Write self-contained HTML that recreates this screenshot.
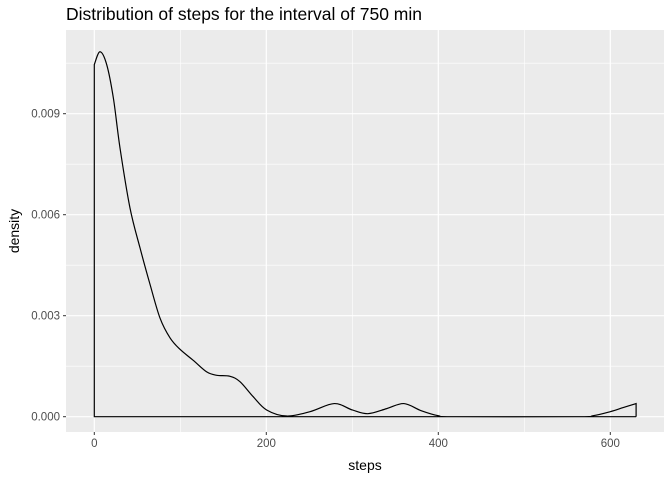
<!DOCTYPE html>
<html><head><meta charset="utf-8"><style>
body{margin:0;background:#fff;}
svg{display:block;font-family:"Liberation Sans",sans-serif;}
</style></head><body>
<svg id="chart" width="672" height="480">
<rect width="672" height="480" fill="#fff"/>
<text x="66" y="20" font-size="17.5" fill="#000">Distribution of steps for the interval of 750 min</text>
<rect id="panel" x="66" y="30" width="598" height="402" fill="#ebebeb"/>
<g id="grid"></g>
<g id="axes"></g>
<path id="curve" fill="none" stroke="#000" stroke-width="1.2"/>
<text x="365" y="470" font-size="14" text-anchor="middle" fill="#000">steps</text>
<text transform="translate(19,231) rotate(-90)" font-size="14" text-anchor="middle" fill="#000">density</text>
</svg>
<script>
const steps=[0,6.6,14.4,22.2,29.9,41.5,53.2,64.8,76.4,88.1,99.7,115.2,130.7,142.3,157.8,169.4,184.9,200.4,223.6,250.8,279,300,318,340,360,380,400,420,560,580,600,615,630];
const dens=[0.01046,0.01084,0.01046,0.00946,0.00798,0.0062,0.00501,0.00393,0.00293,0.00234,0.002,0.00167,0.00133,0.00123,0.0012,0.00104,0.00059,0.0002,0.00002,0.00015,0.00039,0.0002,0.00009,0.00024,0.00039,0.00018,0.00003,0,0,0.00003,0.00015,0.00027,0.00039];
const xTicks=[0,200,400,600];
const xMinor=[100,300,500];
const yTicks=[0,0.003,0.006,0.009];
const yTickLabels=["0.000","0.003","0.006","0.009"];
const yMinor=[0.0015,0.0045,0.0075,0.0105];
const X=v=>94.3+v*0.86;
const Y=v=>416.7-v/0.003*101;
const ns="http://www.w3.org/2000/svg";
const grid=document.getElementById('grid'),axes=document.getElementById('axes');
function line(p,x1,y1,x2,y2,st,w){const l=document.createElementNS(ns,'line');l.setAttribute('x1',x1);l.setAttribute('y1',y1);l.setAttribute('x2',x2);l.setAttribute('y2',y2);l.setAttribute('stroke',st);l.setAttribute('stroke-width',w);p.appendChild(l);return l;}
function txt(p,x,y,s,a){const t=document.createElementNS(ns,'text');t.setAttribute('x',x);t.setAttribute('y',y);t.setAttribute('font-size','11.5');t.setAttribute('fill','#4d4d4d');t.setAttribute('text-anchor',a);t.textContent=s;p.appendChild(t);return t;}
xMinor.forEach(v=>{const l=line(grid,X(v),30,X(v),432,'#fff',0.6);

});
yMinor.forEach(v=>{const l=line(grid,66,Y(v),664,Y(v),'#fff',0.6);

});
xTicks.forEach(v=>{const l=line(grid,X(v),30,X(v),432,'#fff',1.2);


line(axes,X(v),432,X(v),435,'#333',1);
const t=txt(axes,X(v),447,String(v),'middle');

});
yTicks.forEach((v,i)=>{const l=line(grid,66,Y(v),664,Y(v),'#fff',1.2);


line(axes,63,Y(v),66,Y(v),'#333',1);
const t=txt(axes,60,Y(v)+4,yTickLabels[i],'end');

});
// smooth path (catmull-rom)
const pts=steps.map((s,i)=>[X(s),Y(dens[i])]);
let d=`M${X(steps[steps.length-1])},${Y(0)} L${X(0)},${Y(0)} L${pts[0][0]},${pts[0][1]}`;
for(let i=0;i<pts.length-1;i++){const p0=pts[Math.max(0,i-1)],p1=pts[i],p2=pts[i+1],p3=pts[Math.min(pts.length-1,i+2)];
const c1=[p1[0]+(p2[0]-p0[0])/6,p1[1]+(p2[1]-p0[1])/6],c2=[p2[0]-(p3[0]-p1[0])/6,p2[1]-(p3[1]-p1[1])/6];
d+=` C${c1[0]},${c1[1]} ${c2[0]},${c2[1]} ${p2[0]},${p2[1]}`;}
d+=` L${X(steps[steps.length-1])},${Y(0)}`;
document.getElementById('curve').setAttribute('d',d);
</script>
</body></html>
